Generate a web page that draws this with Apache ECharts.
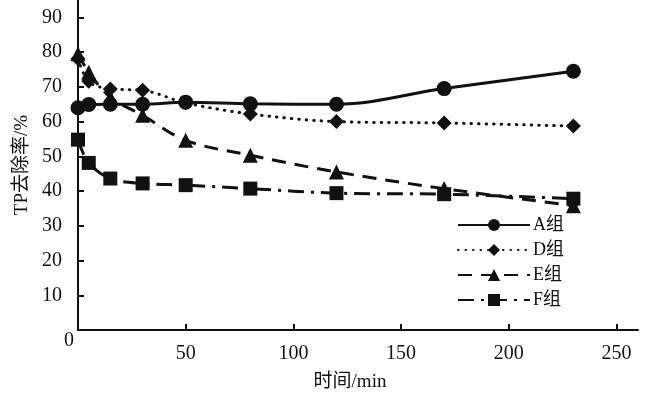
<!DOCTYPE html>
<html><head><meta charset="utf-8">
<script src="https://cdn.jsdelivr.net/npm/echarts@6/dist/echarts.min.js"></script>
<style>html,body{margin:0;padding:0;background:#fff}#c{width:650px;height:395px}</style>
</head><body><div id="c"></div>
<script>
var times = [0, 5, 15, 30, 50, 80, 120, 170, 230];
var groupA = [64.0, 64.9, 65.0, 65.0, 65.6, 65.1, 65.0, 69.5, 74.5];
var groupD = [78.1, 71.6, 69.4, 69.0, 65.4, 62.2, 60.0, 59.6, 58.7];
var groupE = [79.5, 74.2, 67.0, 61.8, 54.6, 50.3, 45.5, 40.7, 35.8];
var groupF = [54.8, 48.1, 43.6, 42.2, 41.7, 40.7, 39.4, 39.1, 37.8];
var seriesNames = ['A组', 'D组', 'E组', 'F组'];
var yTicks = [0, 10, 20, 30, 40, 50, 60, 70, 80, 90];
var xTicks = [0, 50, 100, 150, 200, 250];

function pairs(v){ return times.map(function(t,i){ return [t, v[i]]; }); }
var ink = '#111';
var font = '"Liberation Serif", "Noto Sans CJK SC", serif';
function mk(name, data, symbol, size, ltype, cap){
  return {
    name: name, type: 'line', data: pairs(data), smooth: 0.35,
    symbol: symbol, symbolSize: size, showSymbol: true,
    itemStyle: {color: ink, borderWidth: 0},
    lineStyle: {color: ink, width: 3, type: ltype, cap: cap || 'butt'},
    emphasis: {disabled: true}, z: 2
  };
}
var chart = echarts.init(document.getElementById('c'));
chart.setOption({
  animation: false,
  backgroundColor: '#fff',
  grid: {left: 78, right: 12, top: 0, bottom: 65, containLabel: false, outerBoundsMode: 'none'},
  legend: {
    orient: 'vertical', left: 452, top: 211, itemWidth: 72, itemHeight: 15, itemGap: 7,
    textStyle: {fontFamily: font, fontSize: 18, color: ink, padding: [0,0,0,-2]},
    data: seriesNames
  },
  xAxis: {
    type: 'value', min: 0, max: 260, interval: 50,
    name: '时间/min', nameLocation: 'middle', nameGap: 43,
    nameTextStyle: {fontFamily: font, fontSize: 19, color: ink, padding: [0, 16, 0, 0]},
    axisLine: {lineStyle: {color: ink, width: 2}},
    axisTick: {inside: true, length: 6, lineStyle: {color: ink, width: 2}},
    axisLabel: {fontFamily: font, fontSize: 20, color: ink, margin: 14, showMaxLabel: false,
      formatter: function(v){ return (v === 0 || xTicks.indexOf(v) < 0) ? '' : String(v); }},
    splitLine: {show: false}
  },
  yAxis: {
    type: 'value', min: 0, max: 95, interval: 10,
    name: 'TP去除率/%', nameLocation: 'middle', nameGap: 46, nameRotate: 90,
    nameTextStyle: {fontFamily: font, fontSize: 19, color: ink},
    axisLine: {lineStyle: {color: ink, width: 2}},
    axisTick: {inside: true, length: 6, lineStyle: {color: ink, width: 2}},
    axisLabel: {fontFamily: font, fontSize: 20, color: ink, margin: 16, showMaxLabel: false,
      formatter: function(v){ return (v === 0 || yTicks.indexOf(v) < 0) ? '' : String(v); }},
    splitLine: {show: false}
  },
  graphic: [{type: 'text', left: 64, top: 331, style: {text: String(yTicks[0]), font: '20px ' + font, fill: ink}}],
  series: [
    mk(seriesNames[0], groupA, 'circle', 15, 'solid'),
    mk(seriesNames[1], groupD, 'diamond', 15, [0.5, 7], 'round'),
    mk(seriesNames[2], groupE, 'triangle', 15, [14, 9]),
    mk(seriesNames[3], groupF, 'rect', 14, [16, 7, 3, 7])
  ]
});
</script></body></html>
